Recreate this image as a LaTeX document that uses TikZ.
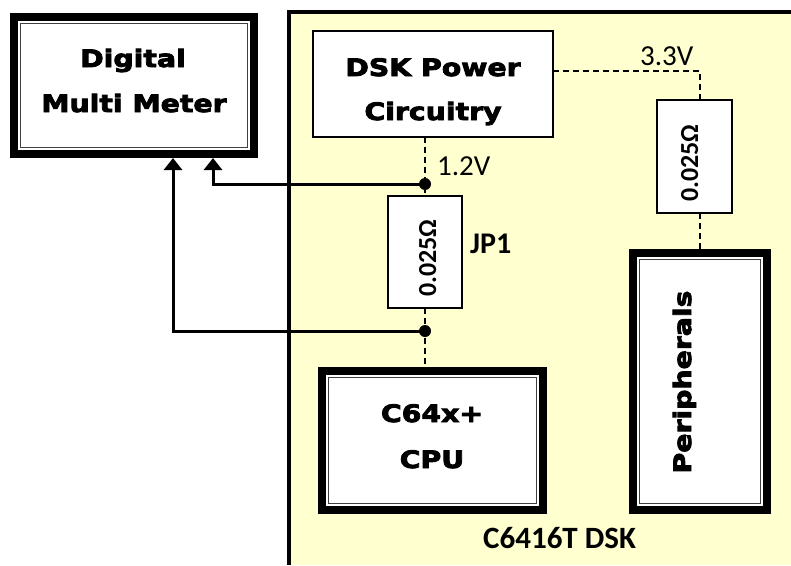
\documentclass[tikz,border=0pt]{standalone}
\usepackage{fontspec}
\usetikzlibrary{arrows.meta,calc}
\newfontfamily\hfont{DejaVu Sans}[FakeStretch=1.18,FakeBold=3.5]
\newfontfamily\cfont{Carlito}
\definecolor{board}{RGB}{255,255,208}
\tikzset{
  heavybox/.style={draw=black, line width=8pt, fill=white, inner sep=0pt, outer sep=0pt},
  thinframe/.style={draw=black!75, line width=1.2pt},
  plainbox/.style={draw=black, line width=2pt, fill=white, inner sep=0pt, outer sep=0pt},
  headtxt/.style={font=\hfont\bfseries\fontsize{24}{24}\selectfont, anchor=base, inner sep=0pt},
  lbl/.style={font=\cfont\fontsize{29}{29}\selectfont, inner sep=0pt, anchor=base west},
  boldlbl/.style={font=\cfont\bfseries\fontsize{30}{30}\selectfont, inner sep=0pt, anchor=base west},
  reslbl/.style={font=\cfont\bfseries\fontsize{26}{26}\selectfont, inner sep=0pt, anchor=base, rotate=90},
  wire/.style={line width=2.6pt, dash pattern=on 6pt off 4pt},
  meas/.style={line width=3pt, -{Triangle[width=18pt,length=12pt]}},
  junction/.style={circle, fill=black, inner sep=0pt, minimum size=12pt},
}
\begin{document}
\begin{tikzpicture}[x=1pt,y=-1pt]
\useasboundingbox (0,0) rectangle (791,565);
\fill[white] (0,0) rectangle (791,565);
% board
\fill[board] (289,12) rectangle (791,565);
\draw[line width=4pt] (289,565) -- (289,12) -- (791,12);

% boxes
\node[heavybox, minimum width=240pt, minimum height=137pt] (dmm) at (134,85.5) {};
\draw[thinframe] ([shift={(6.5pt,-6.5pt)}]dmm.north west) rectangle ([shift={(-6.5pt,6.5pt)}]dmm.south east);
\node[heavybox, minimum width=221pt, minimum height=139pt] (cpu) at (432.5,440.5) {};
\draw[thinframe] ([shift={(6.5pt,-6.5pt)}]cpu.north west) rectangle ([shift={(-6.5pt,6.5pt)}]cpu.south east);
\node[heavybox, minimum width=134pt, minimum height=257pt] (per) at (700,381.5) {};
\draw[thinframe] ([shift={(6.5pt,-6.5pt)}]per.north west) rectangle ([shift={(-6.5pt,6.5pt)}]per.south east);
\node[plainbox, minimum width=240pt, minimum height=106pt] (pwr) at (433,84) {};
\node[plainbox, minimum width=74pt, minimum height=112pt] (r1) at (425,252) {};
\node[plainbox, minimum width=75pt, minimum height=113pt] (r2) at (694.5,156.5) {};

% coordinates
\coordinate (dot1) at (425,184);
\coordinate (dot2) at (425,331);
\coordinate (v33) at (700,71);
\coordinate (t1) at (213,158);
\coordinate (t2) at (173,158);

% dashed supply wires
\draw[wire] (pwr.south -| r1) -- (r1.north);
\draw[wire] (r1.south) -- (cpu.north -| r1);
\draw[wire] (pwr.east |- v33) -- (v33) -- (v33 |- r2.north);
\draw[wire] (v33 |- r2.south) -- (v33 |- per.north);

% measurement leads
\draw[meas] (dot1) -| (t1);
\draw[meas] (dot2) -| (t2);
\node[junction] (j1) at (dot1) {};
\node[junction] (j2) at (dot2) {};

% texts
\node[headtxt] (dmm1) at (133,67) {Digital};
\node[headtxt] (dmm2) at (134,112) {Multi Meter};
\node[headtxt] (pwr1) at (433,76) {DSK Power};
\node[headtxt] (pwr2) at (433,120) {Circuitry};
\node[headtxt] (cpu1) at (432,422) {C64x+};
\node[headtxt] (cpu2) at (432,468) {CPU};
\node[headtxt, rotate=90] (per1) at (691,382) {Peripherals};

\node[lbl] (l12) at (437,175) {1.2V};
\node[lbl] (l33) at (640,65) {3.3V};
\node[boldlbl] (jp1) at (470,253) {JP1};
\node[boldlbl, font=\cfont\bfseries\fontsize{31}{31}\selectfont] (dsk) at (483,548) {C6416T DSK};
\node[reslbl] (o1) at (436,258) {0.025Ω};
\node[reslbl] (o2) at (698,163) {0.025Ω};
\end{tikzpicture}
\end{document}
